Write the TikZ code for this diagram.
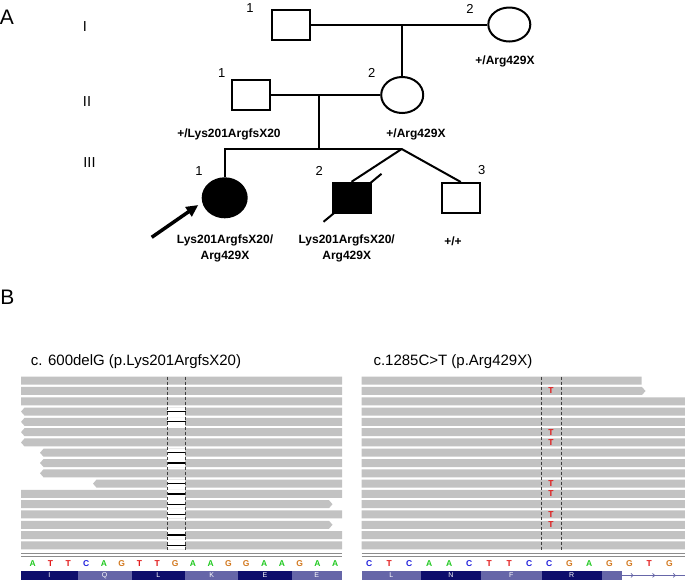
\documentclass[tikz,border=0pt]{standalone}
\usepackage{fontspec}
\setmainfont{Liberation Sans}
\usetikzlibrary{shapes.geometric,arrows.meta,calc}
\definecolor{readgray}{RGB}{194,194,194}
\definecolor{colA}{RGB}{30,200,30}
\definecolor{colT}{RGB}{225,20,20}
\definecolor{colC}{RGB}{30,30,220}
\definecolor{colG}{RGB}{210,120,30}
\definecolor{aadark}{RGB}{14,14,108}
\definecolor{aalight}{RGB}{102,102,168}

\begin{document}
\begin{tikzpicture}[x=1pt,y=-1pt,
    male/.style={draw,line width=2pt,minimum width=38pt,minimum height=30pt,inner sep=0pt},
    female/.style={ellipse,draw,line width=2pt,minimum width=42pt,minimum height=34pt,inner sep=0pt},
    famline/.style={line width=2pt},
    num/.style={font=\fontsize{13}{13}\selectfont,inner sep=0pt},
    geno/.style={font=\fontsize{12}{16}\selectfont\bfseries,align=center,inner sep=0pt},
    gen/.style={font=\fontsize{14.5}{14.5}\selectfont,inner sep=0pt},
    panel/.style={font=\fontsize{21}{21}\selectfont,inner sep=0pt},
    title/.style={font=\fontsize{15}{15}\selectfont,inner sep=0pt,anchor=base west},
    read/.style={fill=readgray},
    cut/.style={dash pattern=on 3pt off 2pt,black!75,line width=0.7pt},
    nt/.style={font=\fontsize{8.5}{8.5}\selectfont\bfseries,inner sep=0pt},
    aa/.style={font=\fontsize{7}{7}\selectfont,text=white!80,inner sep=0pt}]
  \useasboundingbox (0,0) rectangle (685,582);

  \node[panel] (pA) at (7,17.5) {A};
  \node[panel] (pB) at (7.5,297.5) {B};

  \node[gen] (gI) at (85,27) {I};
  \node[gen] (gII) at (87,102) {II};
  \node[gen] (gIII) at (89.5,162.5) {III};

  \node[male] (I1) at (290.8,24.5) {};
  \node[female] (I2) at (509.3,24.5) {};
  \node[male] (II1) at (251.2,95) {};
  \node[female,minimum height=36pt] (II2) at (402.2,95) {};
  \node[female,fill=black,minimum width=44pt,minimum height=39pt] (III1) at (224.7,197.8) {};
  \node[male,fill=black] (III2) at (351.5,197.8) {};
  \node[male] (III3) at (460.8,198) {};

  \coordinate (m2) at (319,95);
  \coordinate (sib) at (319,149);
  \coordinate (twin) at (401.7,149);
  \coordinate (prob) at (151.7,237.3);

  \draw[famline] (I1) -- (I2);
  \draw[famline] (II2.north |- I1) -- (II2.north);
  \draw[famline] (II1) -- (II2);
  \draw[famline] (m2) -- (sib);
  \draw[famline] (III1.north) |- (twin);
  \draw[famline] (twin) -- (III2.north);
  \draw[famline] (twin) -- (III3.north);
  \draw[famline] ($(III2.center)+(-28,24)$) -- ($(III2.center)+(30,-24)$);
  \draw[line width=3.5pt,-{Triangle[length=12pt,width=11pt]}] (prob) -- ($(III1.center)+(-26.4,7.2)$);

  \node[num] (nI1) at (250,8.5) {1};
  \node[num] (nI2) at (470,8.5) {2};
  \node[num] (nII1) at (221.7,73.3) {1};
  \node[num] (nII2) at (371.7,73.3) {2};
  \node[num] (nIII1) at (199,170.7) {1};
  \node[num] (nIII2) at (319.3,170.7) {2};
  \node[num] (nIII3) at (481.7,170) {3};

  \node[geno] (gI2) at (505,61) {+/Arg429X};
  \node[geno] (gII1) at (229,134) {+/Lys201ArgfsX20};
  \node[geno] (gII2) at (416,134) {+/Arg429X};
  \node[geno] (gIII1) at (225,248) {Lys201ArgfsX20/\\Arg429X};
  \node[geno] (gIII2) at (346.7,248) {Lys201ArgfsX20/\\Arg429X};
  \node[geno] (gIII3) at (453,241.7) {+/+};

  \node[title] (tL) at (30.7,365) {c. 600delG (p.Lys201ArgfsX20)};
  \node[title] (tR) at (373.3,365) {c.1285C>T (p.Arg429X)};

  \foreach \r/\xa/\xb/\ta/\tb in {0/21/342/21/342, 1/21/342/21/342, 2/21/342/21/342,
      3/24.5/342/21/342, 4/24.5/342/21/342, 5/24.5/342/21/342, 6/24.5/342/21/342,
      7/43.5/342/40/342, 8/43.5/342/40/342, 9/43.5/342/40/342, 10/96.5/342/93/342,
      11/21/342/21/342, 12/21/329/21/332.5, 13/21/342/21/342, 14/21/329/21/332.5,
      15/21/342/21/342, 16/21/342/21/342}
    \fill[read] (\ta,{380.7+10.29*\r}) -- (\xa,{376.7+10.29*\r}) -- (\xb,{376.7+10.29*\r})
      -- (\tb,{380.7+10.29*\r}) -- (\xb,{384.7+10.29*\r}) -- (\xa,{384.7+10.29*\r}) -- cycle;
  \foreach \r/\xb/\tb in {0/641.7/641.7, 1/642/645.5, 2/685/685, 3/685/685, 4/685/685,
      5/685/685, 6/685/685, 7/685/685, 8/685/685, 9/685/685, 10/685/685, 11/685/685,
      12/685/685, 13/685/685, 14/685/685, 15/685/685, 16/685/685}
    \fill[read] (361.7,{376.7+10.29*\r}) -- (\xb,{376.7+10.29*\r}) -- (\tb,{380.7+10.29*\r})
      -- (\xb,{384.7+10.29*\r}) -- (361.7,{384.7+10.29*\r}) -- cycle;

  \foreach \r in {3,4,7,8,10,11,12,13,15,16} {
    \fill[white] (167,{376.7+10.29*\r}) rectangle (185,{384.7+10.29*\r});
    \draw[line width=1.2pt] (166.5,{380.7+10.29*\r}) -- (185.5,{380.7+10.29*\r});
  }
  \foreach \r in {1,5,6,10,11,13,14}
    \node[nt,text=colT] (T\r) at (551,{380.7+10.29*\r}) {T};

  \draw[cut] (167,376.7) -- (167,551);
  \draw[cut] (185,376.7) -- (185,551);
  \draw[cut] (541,376.7) -- (541,551);
  \draw[cut] (561,376.7) -- (561,551);

  \draw[black!45,line width=0.6pt] (21,553.5) -- (342,553.5) (21,556.3) -- (342,556.3);
  \draw[black!45,line width=0.6pt] (361.7,553.5) -- (685,553.5) (361.7,556.3) -- (685,556.3);

  \foreach \b [count=\i from 0] in {A,T,T,C,A,G,T,T,G,A,A,G,G,A,A,G,A,A}
    \node[nt,text=col\b] (sL\i) at ({32.7+17.8*\i},563.3) {\b};
  \foreach \b [count=\i from 0] in {C,T,C,A,A,C,T,T,C,C,G,A,G,G,T,G}
    \node[nt,text=col\b] (sR\i) at ({369.3+20*\i},563.3) {\b};

  \foreach \xa/\xb/\a/\c [count=\i] in {21/77.7/I/aadark, 77.7/131.7/Q/aalight, 131.7/185/L/aadark,
      185/238.3/K/aalight, 238.3/291.7/E/aadark, 291.7/341.7/E/aalight} {
    \fill[\c] (\xa,570.7) rectangle (\xb,580);
    \node[aa] (aL\i) at ({(\xa+\xb)/2},575.4) {\a};
  }
  \foreach \xa/\xb/\a/\c [count=\i] in {361.7/421/L/aalight, 421/481/N/aadark, 481/541.7/F/aalight,
      541.7/601.7/R/aadark, 601.7/621.7//aalight} {
    \fill[\c] (\xa,570.7) rectangle (\xb,580);
    \node[aa] (aR\i) at ({(\xa+\xb)/2},575.4) {\a};
  }
  \draw[aalight,line width=0.8pt] (621.7,575.4) -- (685,575.4);
  \foreach \x in {632.7,654.3,675}
    \draw[aalight,line width=0.7pt] (\x-1.8,573.4) -- (\x+0.4,575.4) -- (\x-1.8,577.4);
\end{tikzpicture}
\end{document}
